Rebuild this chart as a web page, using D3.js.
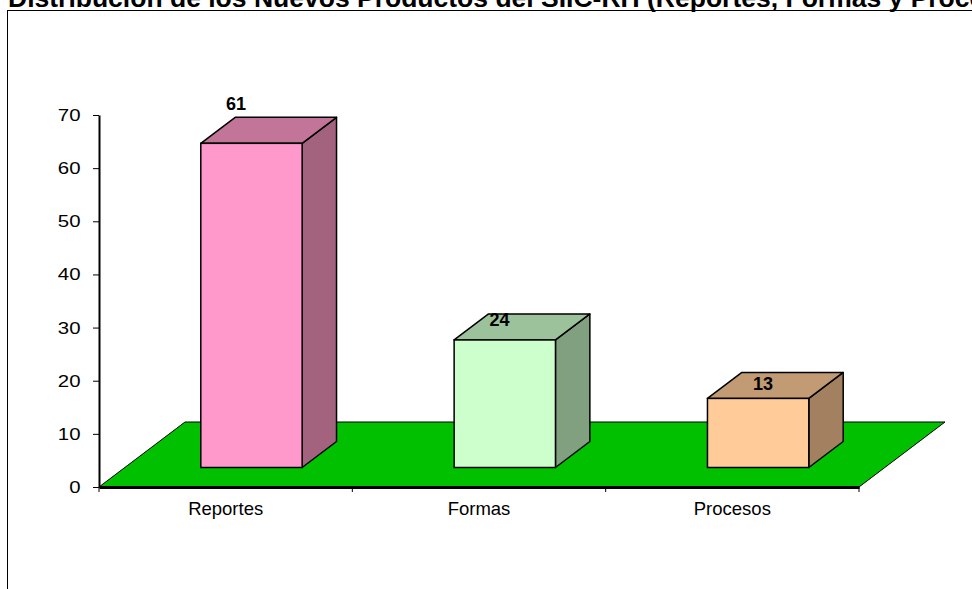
<!DOCTYPE html>
<html>
<head>
<meta charset="utf-8">
<script src="https://cdn.jsdelivr.net/npm/d3@7"></script>
<style>
  body { margin: 0; background: #fff; }
  svg { display: block; font-family: Arial, "Liberation Sans", sans-serif; }
</style>
</head>
<body>
<div id="chart"></div>
<script>
// data
var title = "Distribución de los Nuevos Productos del SIIC-RH (Reportes, Formas y Procesos)"
var categories = ["Reportes", "Formas", "Procesos"]
var values = [61, 24, 13]
var yTicks = [0, 10, 20, 30, 40, 50, 60, 70]
var frontColors = ["#FF99CC", "#CCFFCC", "#FFCC99"]
var topColors = ["#C27599", "#9CC29C", "#C29A73"]
var sideColors = ["#A3637F", "#80A080", "#A3805F"]

var width = 972, height = 589

var svg = d3.select("#chart")
    .append("svg")
    .attr("width", width)
    .attr("height", height)

// chart area frame (runs off the page on the right and bottom)
svg.append("rect")
    .attr("x", 7.5).attr("y", 10.5)
    .attr("width", 1000).attr("height", 600)
    .attr("fill", "#fff")
    .attr("stroke", "#000")
    .attr("stroke-width", 1)

// title, cut at the top edge like the source
svg.append("text")
    .attr("x", 8).attr("y", 6.5)
    .style("font-size", "26.5px")
    .style("font-weight", "bold")
    .text(title)

var x_scale = d3.scaleBand()
    .domain(categories)
    .range([99, 859])

var y_scale = d3.scaleLinear()
    .domain([0, 70])
    .range([487, 115])

// depth of the floor (3D offset of the back edge)
var depth = {dx: 86, dy: -65}
var d0 = 0.3, d1 = 0.7   // bar front / back, as fraction of depth

// floor
var x0 = x_scale.range()[0], x1 = x_scale.range()[1], yb = y_scale(0)
svg.append("path")
    .attr("d", "M" + x0 + "," + yb +
               "L" + (x0 + depth.dx) + "," + (yb + depth.dy) +
               "L" + (x1 + depth.dx) + "," + (yb + depth.dy) +
               "L" + x1 + "," + yb + "Z")
    .attr("fill", "#00C000")
    .attr("stroke", "#000")
    .attr("stroke-width", 1)

// y axis
var yaxis = d3.axisLeft(y_scale)
    .tickValues(yTicks)
    .tickSize(6)
    .tickSizeOuter(0)

var gy = svg.append("g")
    .attr("transform", "translate(" + x0 + ",0)")
    .call(yaxis)
gy.select(".domain").attr("stroke", "#000").attr("stroke-width", 2)
gy.selectAll(".tick line").attr("stroke", "#000")
// the source labels are stretched sideways
gy.selectAll(".tick text")
    .attr("fill", "#000")
    .attr("x", -18.5 / 1.2)
    .attr("transform", "scale(1.2,1)")
    .style("font-size", "17px")
    .style("font-family", "Arial, 'Liberation Sans', sans-serif")

// x axis (front edge of the floor)
var xaxis = d3.axisBottom(x_scale)
    .tickSize(0)
    .tickPadding(15)

var gx = svg.append("g")
    .attr("transform", "translate(0," + yb + ")")
    .call(xaxis)
gx.select(".domain").attr("stroke", "#000").attr("stroke-width", 3)
gx.selectAll(".tick text")
    .attr("fill", "#000")
    .style("font-size", "18.5px")
    .style("font-family", "Arial, 'Liberation Sans', sans-serif")

// tick marks at the band edges
var edges = categories.map(function (c) { return x_scale(c) }).concat([x1])
gx.selectAll(".edge")
    .data(edges)
    .enter()
    .append("line")
    .attr("x1", function (d) { return d }).attr("x2", function (d) { return d })
    .attr("y1", 0).attr("y2", 5)
    .attr("stroke", "#000")

// 3D bars
var bw = x_scale.bandwidth()
var bars = svg.selectAll(".bar")
    .data(values)
    .enter()
    .append("g")
    .attr("class", "bar")

function barGeom(v, i) {
    var fx = x_scale(categories[i]) + bw * 0.3 + depth.dx * d0
    var fw = bw * 0.4
    var fb = y_scale(0) + depth.dy * d0
    var ft = y_scale(v) + depth.dy * d0
    var sx = depth.dx * (d1 - d0), sy = depth.dy * (d1 - d0)
    return {fx: fx, fw: fw, fb: fb, ft: ft, sx: sx, sy: sy}
}

bars.append("path")  // side face
    .attr("d", function (v, i) {
        var g = barGeom(v, i)
        var r = g.fx + g.fw
        return "M" + r + "," + g.fb + "L" + (r + g.sx) + "," + (g.fb + g.sy) +
               "L" + (r + g.sx) + "," + (g.ft + g.sy) + "L" + r + "," + g.ft + "Z"
    })
    .attr("fill", function (v, i) { return sideColors[i] })
    .attr("stroke", "#000").attr("stroke-width", 1.5).attr("stroke-linejoin", "round")

bars.append("path")  // top face
    .attr("d", function (v, i) {
        var g = barGeom(v, i)
        return "M" + g.fx + "," + g.ft + "L" + (g.fx + g.sx) + "," + (g.ft + g.sy) +
               "L" + (g.fx + g.fw + g.sx) + "," + (g.ft + g.sy) +
               "L" + (g.fx + g.fw) + "," + g.ft + "Z"
    })
    .attr("fill", function (v, i) { return topColors[i] })
    .attr("stroke", "#000").attr("stroke-width", 1.5).attr("stroke-linejoin", "round")

bars.append("rect")  // front face
    .attr("x", function (v, i) { return barGeom(v, i).fx })
    .attr("y", function (v, i) { return barGeom(v, i).ft })
    .attr("width", function (v, i) { return barGeom(v, i).fw })
    .attr("height", function (v, i) { var g = barGeom(v, i); return g.fb - g.ft })
    .attr("fill", function (v, i) { return frontColors[i] })
    .attr("stroke", "#000").attr("stroke-width", 1.5)

// value labels (Excel places these in projected space)
var label_x = d3.scalePoint().domain(categories).range([236, 763])
var label_y = d3.scaleLinear().domain([0, 70]).range([466, 58])

bars.append("text")
    .attr("x", function (v, i) { return label_x(categories[i]) })
    .attr("y", function (v) { return label_y(v) })
    .attr("text-anchor", "middle")
    .style("font-size", "18px")
    .style("font-weight", "bold")
    .text(function (v) { return v })
</script>
</body>
</html>
